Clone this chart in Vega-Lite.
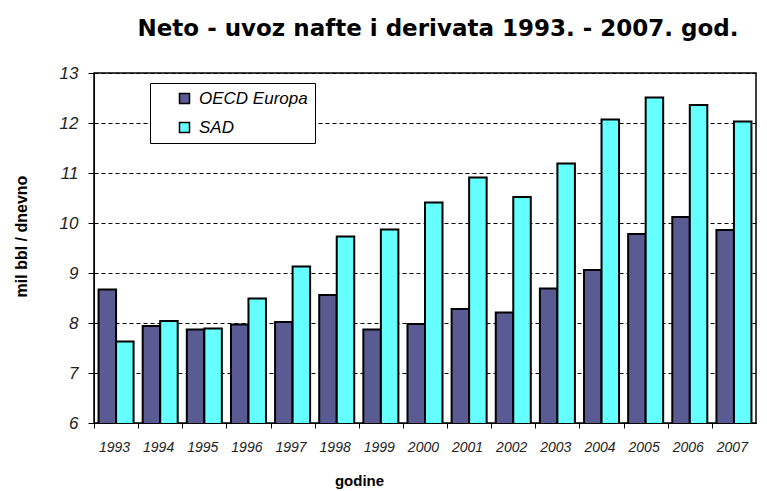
{
  "$schema": "https://vega.github.io/schema/vega-lite/v6.json",
  "width": 662,
  "height": 350,
  "autosize": {"type": "none"},
  "padding": {"left": 94, "top": 73, "right": 11, "bottom": 68},
  "background": "white",
  "title": {
    "text": "Neto - uvoz nafte i derivata 1993. - 2007. god.",
    "font": "DejaVu Sans",
    "fontSize": 23,
    "fontWeight": "bold",
    "color": "black",
    "anchor": "middle",
    "dx": 13,
    "offset": 23
  },
  "data": {
    "values": [
      {"year": "1993", "series": "OECD Europa", "value": 8.67},
      {"year": "1993", "series": "SAD", "value": 7.63},
      {"year": "1994", "series": "OECD Europa", "value": 7.94},
      {"year": "1994", "series": "SAD", "value": 8.04},
      {"year": "1995", "series": "OECD Europa", "value": 7.87},
      {"year": "1995", "series": "SAD", "value": 7.89},
      {"year": "1996", "series": "OECD Europa", "value": 7.97},
      {"year": "1996", "series": "SAD", "value": 8.49},
      {"year": "1997", "series": "OECD Europa", "value": 8.02},
      {"year": "1997", "series": "SAD", "value": 9.13},
      {"year": "1998", "series": "OECD Europa", "value": 8.56},
      {"year": "1998", "series": "SAD", "value": 9.73},
      {"year": "1999", "series": "OECD Europa", "value": 7.87},
      {"year": "1999", "series": "SAD", "value": 9.87},
      {"year": "2000", "series": "OECD Europa", "value": 7.98},
      {"year": "2000", "series": "SAD", "value": 10.41},
      {"year": "2001", "series": "OECD Europa", "value": 8.28},
      {"year": "2001", "series": "SAD", "value": 10.91},
      {"year": "2002", "series": "OECD Europa", "value": 8.21},
      {"year": "2002", "series": "SAD", "value": 10.52},
      {"year": "2003", "series": "OECD Europa", "value": 8.69},
      {"year": "2003", "series": "SAD", "value": 11.19},
      {"year": "2004", "series": "OECD Europa", "value": 9.06},
      {"year": "2004", "series": "SAD", "value": 12.07},
      {"year": "2005", "series": "OECD Europa", "value": 9.78},
      {"year": "2005", "series": "SAD", "value": 12.51},
      {"year": "2006", "series": "OECD Europa", "value": 10.12},
      {"year": "2006", "series": "SAD", "value": 12.36},
      {"year": "2007", "series": "OECD Europa", "value": 9.86},
      {"year": "2007", "series": "SAD", "value": 12.03}
    ]
  },
  "mark": {"type": "bar", "stroke": "black", "strokeWidth": 2, "clip": true},
  "encoding": {
    "x": {
      "field": "year",
      "type": "nominal",
      "scale": {"paddingInner": 0, "paddingOuter": 0},
      "axis": {
        "title": "godine",
        "titleFont": "Liberation Sans",
        "titleFontSize": 15,
        "titleFontWeight": "bold",
        "titleColor": "black",
        "titleX": 265,
        "titleY": 57,
        "titleBaseline": "middle",
        "labelAngle": 0,
        "labelFont": "Liberation Sans",
        "labelFontStyle": "italic",
        "labelFontSize": 14,
        "labelColor": "#222222",
        "labelPadding": 12,
        "tickOffset": -22.07,
        "labelOffset": 20,
        "tickSize": 5,
        "tickColor": "black",
        "domainColor": "black",
        "grid": false
      }
    },
    "xOffset": {
      "field": "series",
      "type": "nominal",
      "sort": ["OECD Europa", "SAD"],
      "scale": {"paddingInner": 0, "paddingOuter": 0.26}
    },
    "y": {
      "field": "value",
      "type": "quantitative",
      "scale": {"domain": [6, 13], "nice": false, "zero": false},
      "axis": {
        "values": [6, 7, 8, 9, 10, 11, 12, 13],
        "title": "mil bbl / dnevno",
        "titleFont": "Liberation Sans",
        "titleFontSize": 16,
        "titleFontWeight": "bold",
        "titleColor": "black",
        "titleX": -65,
        "titleY": 163,
        "labelFont": "Liberation Sans",
        "labelFontStyle": "italic",
        "labelFontSize": 17,
        "labelColor": "#222222",
        "labelPadding": 10,
        "tickSize": 6,
        "tickColor": "black",
        "domainColor": "black",
        "grid": true,
        "gridColor": "black",
        "gridDash": [4, 3],
        "gridWidth": 1,
        "gridOpacity": 1
      }
    },
    "color": {
      "field": "series",
      "type": "nominal",
      "scale": {"domain": ["OECD Europa", "SAD"], "range": ["#5b5b94", "#66ffff"]},
      "legend": {
        "orient": "none",
        "legendX": 56,
        "legendY": 10,
        "title": null,
        "fillColor": "white",
        "strokeColor": "black",
        "padding": 7,
        "labelFont": "Liberation Sans",
        "labelFontStyle": "italic",
        "labelFontSize": 17,
        "labelColor": "black",
        "symbolType": "square",
        "symbolSize": 100,
        "symbolStrokeColor": "black",
        "symbolStrokeWidth": 1.5,
        "symbolOffset": 19,
        "labelOffset": 6,
        "rowPadding": 11,
        "labelExpr": "datum.label + '      '"
      }
    }
  },
  "config": {
    "view": {"stroke": "black", "strokeWidth": 1.5}
  }
}
